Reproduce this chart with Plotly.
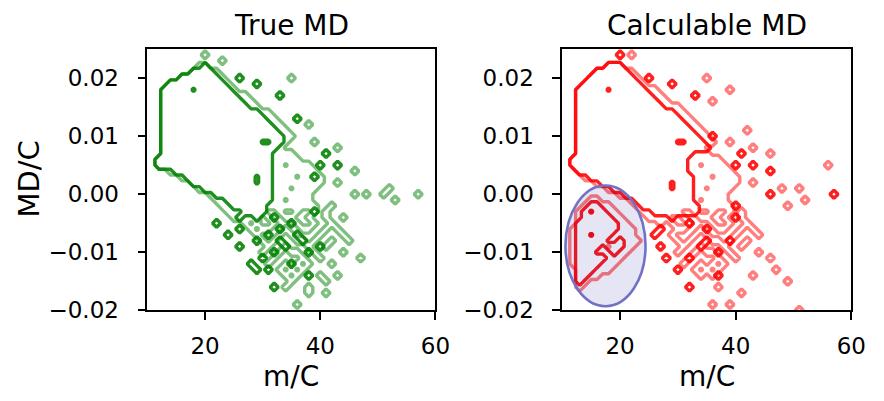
import numpy as np
import plotly.graph_objects as go

# ---------------- data: 2D histogram occupancy (row: MD bin index from top, cols: m/C bin index) ----
# bins: m/C centres 10..60 (col index c -> m = 10 + c), MD centres 0.025 down to -0.021 (row r -> 0.025 - 0.001 r)
M_BINS = np.arange(10, 61, 1)
MD_BINS = np.round(np.arange(-0.021, 0.0255, 0.001), 4)

X_TICKS = [20, 40, 60]
Y_TICKS = [-0.02, -0.01, 0.0, 0.01, 0.02]
Y_TICKTEXT = ["\u22120.02", "\u22120.01", "0.00", "0.01", "0.02"]
TITLES = ["True MD", "Calculable MD"]
X_LABEL = "m/C"
Y_LABEL = "MD/C"

GREEN_DARK = [
    "3: 10", "4: 8-11", "5: 6-12 16", "6: 4-13 19", "7: 3-14", "8: 3-15 23",
    "9: 3-16", "10: 3-17", "11: 3-19", "12: 3-20 26", "13: 3-21", "14: 3-22",
    "15: 3-23", "16: 3-23", "17: 3-22", "18: 3-21 31", "19: 2-21", "20: 2-21 30 33",
    "21: 5-21", "22: 7-21 29", "23: 8-21", "24: 10-21", "25: 12-21", "26: 14-21",
    "27: 15-20", "28: 17-20 29", "29: 16 19 22", "30: 12 25", "31: 16 23", "32: 14 21 26",
    "33: 19 23 27", "34: 16 24 30", "35: 22 28", "36: 20", "37: 18 25", "38: 19 21", "39: 28",
    "41: 22",
]
GREEN_DARK_HOLES = ["7: 8", "16: 20-21", "22: 19", "23: 19"]

GREEN_LIGHT = [
    "1: 10", "2: 13", "3: 9-10", "4: 8-12", "5: 6-13 25", "6: 4-14", "7: 3-15",
    "8: 3-17", "9: 3-18", "10: 3-19", "11: 3-21", "12: 3-22", "13: 3-23 28",
    "14: 3-24", "15: 3-25", "16: 3-24 29", "17: 3-23 33", "18: 3-25", "19: 2-26",
    "20: 2-28", "21: 4-29 36", "22: 6-30", "23: 8-30 33", "24: 9-29 42",
    "25: 11-28 36 38 41 47", "26: 12-28 43", "27: 13-29 32",
    "28: 14-20 23 26 29 31", "29: 15-19 21 24-25 28 31 34",
    "30: 17 19 22 26 29 32", "31: 18 20-21 24 27-28 31 33",
    "32: 19 23 25 30 34", "33: 20 22 26-27 29 32 35", "34: 21 24 28 31",
    "35: 20 23 25-26 29 34", "36: 22 27 30 37", "37: 21 24 26 28 32",
    "38: 23 25 27", "39: 24 26 30 33", "40: 25 31", "41: 24 28", "42: 28 31", "44: 26",
]
GREEN_LIGHT_HOLES = ["20: 24", "22: 26", "24: 25", "26: 24"]

RED_DARK = [
    "1: 10", "3: 8-10", "4: 6-11", "5: 5-12 15", "6: 4-13 19", "7: 3-14", "8: 3-15 23",
    "9: 3-16", "10: 3-17", "11: 3-19", "12: 3-20", "13: 3-21", "14: 3-22",
    "15: 3-23 26", "16: 3-24", "17: 3-25", "18: 3-22 31", "19: 2-21", "20: 2-21 30 33",
    "21: 3-21 36", "22: 5-22", "23: 7-22", "24: 9-22", "25: 11-22 36 47", "26: 13-22",
    "27: 5-6 14-23 30", "28: 4 6-7 16-23", "29: 4-8 19 30", "30: 3-9 22", "31: 3-9 17 25",
    "32: 3-4 6-8 16", "33: 3-7 10 25 29", "34: 3-6 8-10 17 24", "35: 3-5 9 27",
    "36: 3-7 18 22", "37: 3-6", "38: 3-5 20", "39: 3-4 27", "40: 3", "41: 22",
]
RED_DARK_HOLES = ["7: 8", "16: 20-21", "23: 19", "24: 19"]

RED_LIGHT = [
    "1: 12", "3: 8-10", "4: 6-12", "5: 5-13 25", "6: 4-14", "7: 3-16 29", "8: 3-17",
    "9: 3-18 26", "10: 3-20", "11: 3-21", "12: 3-22", "13: 3-23", "14: 3-24 32",
    "15: 3-25", "16: 3-26 29", "17: 3-24 33", "18: 3-25 36", "19: 2-27", "20: 2-28 46",
    "21: 3-29", "22: 4-30", "23: 6-30 33", "24: 8-29 38 41", "25: 10-28",
    "26: 5-6 12-28 42", "27: 4-8 13-29 39", "28: 3-4 6-9 14-20 23 26 29 31",
    "29: 3-10 15-18 21 24-25 28 31", "30: 3-11 17 19 22 26 29 32",
    "31: 2-12 20-21 24 27-28 31 33", "32: 2-12 19 23 25 30 34",
    "33: 2-13 20 22 26-27 29 32", "34: 2-12 21 24 28 31", "35: 2-11 20 23 25-26 29 34",
    "36: 2-10 22 27 30 36", "37: 2-9 21 24 26 28", "38: 3-8 23 25 27 37",
    "39: 3-6 24 26 33", "40: 3-4 39", "41: 3 27", "42: 31", "44: 26 29", "45: 41",
]
RED_LIGHT_HOLES = ["32: 5", "34: 8", "20: 24", "22: 26", "24: 25", "26: 24"]


def build_grid(spec, holes):
    nrow, ncol = len(MD_BINS), len(M_BINS)
    z = np.zeros((nrow, ncol))
    for lines, val in ((spec, 1.0), (holes, 0.0)):
        for line in lines:
            r, cols = line.split(":")
            r = int(r)
            for tok in cols.split():
                if "-" in tok:
                    a, b = map(int, tok.split("-"))
                else:
                    a = b = int(tok)
                z[nrow - 1 - r, a:b + 1] = val
    return z


FONT = "DejaVu Sans"
LEVEL = 0.3
fig = go.Figure()


def add_layer(z, color, xa, ya):
    fig.add_trace(go.Contour(
        x=M_BINS, y=MD_BINS, z=z, xaxis=xa, yaxis=ya,
        autocontour=False,
        contours=dict(start=LEVEL, end=LEVEL, size=1, coloring="lines", showlabels=False),
        line=dict(width=3.4, smoothing=0),
        colorscale=[[0, color], [1, color]], showscale=False, hoverinfo="skip",
    ))


add_layer(build_grid(GREEN_LIGHT, GREEN_LIGHT_HOLES), "rgba(0,128,0,0.5)", "x", "y")
add_layer(build_grid(GREEN_DARK, GREEN_DARK_HOLES), "rgba(0,128,0,0.88)", "x", "y")
add_layer(build_grid(RED_LIGHT, RED_LIGHT_HOLES), "rgba(255,0,0,0.5)", "x2", "y2")
add_layer(build_grid(RED_DARK, RED_DARK_HOLES), "rgba(255,0,0,0.88)", "x2", "y2")

W, H = 884, 401
dom_x1 = [150 / W, 443 / W]
dom_x2 = [572 / W, 866 / W]
dom_y = [1 - 320.7 / H, 1 - 50.7 / H]

ax_common = dict(showline=True, linecolor="black", linewidth=1.8, mirror=True,
                 ticks="outside", ticklen=8, tickwidth=1.8, tickcolor="black",
                 showgrid=False, zeroline=False,
                 tickfont=dict(family=FONT, size=23, color="black"))

fig.update_layout(
    width=W, height=H, margin=dict(l=0, r=0, t=0, b=0),
    paper_bgcolor="white", plot_bgcolor="white", showlegend=False,
    xaxis=dict(domain=dom_x1, range=[10, 60], tickvals=X_TICKS, anchor="y",
               ticklabelstandoff=6, **ax_common),
    yaxis=dict(domain=dom_y, range=[-0.02, 0.025], tickvals=Y_TICKS, ticktext=Y_TICKTEXT,
               anchor="x", ticklabelstandoff=14, **ax_common),
    xaxis2=dict(domain=dom_x2, range=[10, 60], tickvals=X_TICKS, anchor="y2",
                ticklabelstandoff=6, **ax_common),
    yaxis2=dict(domain=dom_y, range=[-0.02, 0.025], tickvals=Y_TICKS, ticktext=Y_TICKTEXT,
                anchor="x2", ticklabelstandoff=14, **ax_common),
)

# ellipse highlighting the low-MD region in the right panel
fig.add_shape(type="circle", xref="x2", yref="y2", x0=10.55, x1=24.4, y0=-0.0193, y1=0.0015,
              fillcolor="rgba(0,0,139,0.1)", line=dict(color="#7272c4", width=2.6), layer="above")

for dom, title in ((dom_x1, TITLES[0]), (dom_x2, TITLES[1])):
    cx = (dom[0] + dom[1]) / 2
    fig.add_annotation(x=cx, y=1 - 26 / H, xref="paper", yref="paper", text=title,
                       showarrow=False, xanchor="center", yanchor="middle",
                       font=dict(family=FONT, size=28, color="black"))
    fig.add_annotation(x=cx, y=1 - 389 / H, xref="paper", yref="paper", text=X_LABEL,
                       showarrow=False, xanchor="center", yanchor="middle",
                       font=dict(family=FONT, size=28, color="black"))

fig.add_annotation(x=29 / W, y=1 - 185 / H, xref="paper", yref="paper", text=Y_LABEL,
                   showarrow=False, textangle=-90, xanchor="center", yanchor="middle",
                   font=dict(family=FONT, size=29, color="black"))

# the page itself adds no margin around the 884x401 figure
fig.write_html("out.html", post_script="document.body.style.margin='0px';")
